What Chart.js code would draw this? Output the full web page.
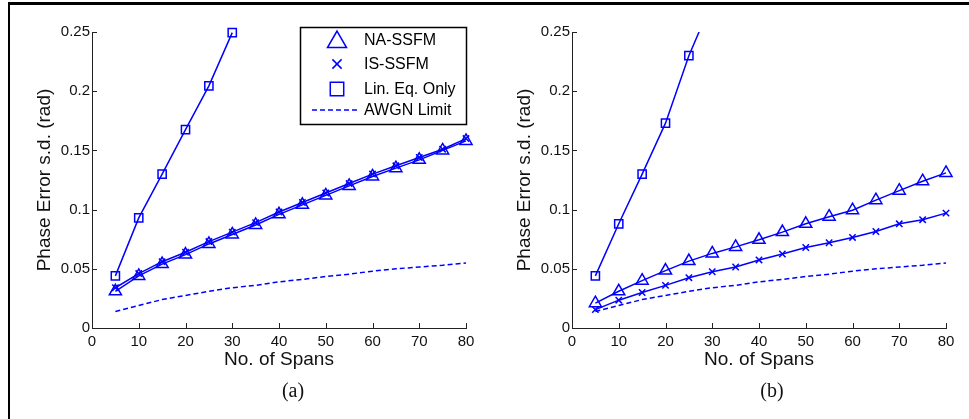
<!DOCTYPE html>
<html>
<head>
<meta charset="utf-8">
<script src="https://cdn.jsdelivr.net/npm/chart.js@4.4.1/dist/chart.umd.min.js"></script>
<style>
  body { margin: 0; background: #fff; width: 969px; height: 419px; overflow: hidden; position: relative; }
  #frame { position: absolute; left: 8px; top: 2px; width: 980px; height: 430px; border-top: 3px solid #000; border-left: 2px solid #000; }
  .box { position: absolute; top: 5px; height: 375px; }
  .cap { position: absolute; top: 379px; font-family: "Liberation Serif", "DejaVu Serif", serif; font-size: 20px; color: #111; transform: translateX(-50%); }
</style>
</head>
<body>
<div id="frame"></div>
<div class="box" style="left:10px;width:480px;"><canvas id="chartA"></canvas></div>
<div class="box" style="left:490px;width:479px;"><canvas id="chartB"></canvas></div>
<div class="cap" style="left:293px;">(a)</div>
<div class="cap" style="left:772px;">(b)</div>
<script>
var spans = [5, 10, 15, 20, 25, 30, 35, 40, 45, 50, 55, 60, 65, 70, 75, 80];
var linSpans = [5, 10, 15, 20, 25, 30];
var xTicks = [0, 10, 20, 30, 40, 50, 60, 70, 80];
var yTicks = [0, 0.05, 0.1, 0.15, 0.2, 0.25];

// (a)
var naA = [0.031, 0.044, 0.054, 0.062, 0.071, 0.079, 0.087, 0.096, 0.104, 0.112, 0.120, 0.128, 0.135, 0.142, 0.150, 0.158];
var isA = [0.034, 0.046, 0.056, 0.064, 0.073, 0.081, 0.089, 0.098, 0.106, 0.114, 0.122, 0.130, 0.137, 0.144, 0.151, 0.160];
var linA = [0.044, 0.093, 0.130, 0.1675, 0.2045, 0.2495];
var awgnA = [0.014, 0.019, 0.024, 0.0275, 0.031, 0.034, 0.036, 0.039, 0.041, 0.0435, 0.0455, 0.048, 0.050, 0.0515, 0.053, 0.055];

// (b)
var naB = [0.021, 0.031, 0.040, 0.0485, 0.0565, 0.063, 0.0685, 0.0745, 0.081, 0.088, 0.094, 0.0995, 0.108, 0.116, 0.124, 0.131];
var isB = [0.0155, 0.0235, 0.030, 0.036, 0.0425, 0.0475, 0.0515, 0.0575, 0.0625, 0.068, 0.072, 0.0765, 0.0815, 0.088, 0.0915, 0.097];
var linB = [0.044, 0.088, 0.130, 0.173, 0.230, 0.276];
var awgnB = [0.014, 0.019, 0.024, 0.0275, 0.031, 0.034, 0.036, 0.039, 0.041, 0.0435, 0.0455, 0.048, 0.050, 0.0515, 0.053, 0.055];

var blue = '#0000ff';
var font = "'Liberation Sans', Arial, sans-serif";

function pts(xs, ys) {
	var out = [];
	for (var i = 0; i < ys.length; i++) out.push({x: xs[i], y: ys[i]});
	return out;
}

function series(label, xs, ys, style, radius, dash) {
	return {
		label: label,
		data: pts(xs, ys),
		borderColor: blue,
		backgroundColor: 'rgba(0,0,0,0)',
		borderWidth: 1.5,
		borderDash: dash || [],
		pointStyle: style,
		pointRadius: radius,
		pointBorderWidth: 1.5,
		pointBorderColor: blue,
		pointBackgroundColor: 'rgba(0,0,0,0)',
		tension: 0,
		clip: false
	};
}

// inward tick marks, matlab style
var innerTicks = {
	id: 'innerTicks',
	afterDatasetsDraw: function(chart) {
		var ctx = chart.ctx, a = chart.chartArea;
		var xs = chart.scales.x, ys = chart.scales.y;
		ctx.save();
		ctx.strokeStyle = '#222';
		ctx.lineWidth = 1;
		ctx.beginPath();
		xs.ticks.forEach(function(t) {
			var px = Math.round(xs.getPixelForValue(t.value)) + 0.5;
			ctx.moveTo(px, a.bottom);
			ctx.lineTo(px, a.bottom - 5);
		});
		ys.ticks.forEach(function(t) {
			var py = Math.round(ys.getPixelForValue(t.value)) + 0.5;
			ctx.moveTo(a.left, py);
			ctx.lineTo(a.left + 5, py);
		});
		ctx.stroke();
		ctx.restore();
	}
};

// legend box inside plot (a)
var boxLegend = {
	id: 'boxLegend',
	afterDraw: function(chart) {
		if (chart.canvas.id !== 'chartA') return;
		var ctx = chart.ctx;
		var ds = chart.data.datasets;
		var rows = [35, 59, 84, 105];
		var sizes = [11, 6.5, 9.5, 0];
		ctx.save();
		ctx.fillStyle = '#fff';
		ctx.fillRect(290, 22, 167, 98);
		ctx.strokeStyle = '#000';
		ctx.lineWidth = 1.5;
		ctx.strokeRect(290.5, 22.5, 166, 97);
		ds.forEach(function(d, i) {
			ctx.strokeStyle = blue;
			ctx.fillStyle = 'rgba(0,0,0,0)';
			if (d.pointStyle) {
				Chart.helpers.drawPoint(ctx, {pointStyle: d.pointStyle, radius: sizes[i], rotation: 0, borderWidth: 2.2}, 327, rows[i] + (i === 0 ? 2 : 0));
			} else {
				ctx.lineWidth = 1.6;
				ctx.setLineDash([5, 3]);
				ctx.beginPath();
				ctx.moveTo(302, rows[i]);
				ctx.lineTo(349, rows[i]);
				ctx.stroke();
				ctx.setLineDash([]);
			}
			ctx.fillStyle = '#000';
			ctx.font = '16px ' + font;
			ctx.textBaseline = 'middle';
			ctx.fillText(d.label, 354, rows[i] + 1);
		});
		ctx.restore();
	}
};

function makeChart(id, na, is, lin, awgn, rightPad) {
	var ctx = document.getElementById(id);
	return new Chart(ctx, {
		type: 'line',
		data: {
			datasets: [
				series('NA-SSFM', spans, na, 'triangle', 7),
				series('IS-SSFM', spans, is, 'crossRot', 4.5),
				Object.assign(series('Lin. Eq. Only', linSpans, lin, 'rect', 5.8), id === 'chartB' ? {clip: {left: false, right: false, top: 0, bottom: false}} : {}),
				series('AWGN Limit', spans, awgn, false, 0, [5, 3])
			]
		},
		options: {
			responsive: true,
			maintainAspectRatio: false,
			animation: false,
			layout: { padding: { top: 27, right: rightPad, left: 0, bottom: 0 } },
			plugins: { legend: { display: false }, tooltip: { enabled: false } },
			scales: {
				x: {
					type: 'linear',
					min: 0, max: 80,
					afterBuildTicks: function(s) { s.ticks = xTicks.map(function(v) { return {value: v}; }); },
					afterFit: function(s) { s.height = 52; },
					grid: { display: true, drawOnChartArea: false, drawTicks: false },
					border: { display: true, color: '#222', width: 1 },
					ticks: { color: '#111', font: { family: font, size: 15 }, padding: 5, maxRotation: 0 },
					title: { display: true, text: 'No. of Spans', color: '#111', font: { family: font, size: 19 }, padding: { top: 0, bottom: 9 } }
				},
				y: {
					min: 0, max: 0.25,
					afterBuildTicks: function(s) { s.ticks = yTicks.map(function(v) { return {value: v}; }); },
					afterFit: function(s) { s.width = 82; },
					grid: { display: true, drawOnChartArea: false, drawTicks: false },
					border: { display: true, color: '#222', width: 1 },
					ticks: { color: '#111', font: { family: font, size: 15 }, padding: 2,
						callback: function(v) { return String(+(+v).toFixed(2)); } },
					title: { display: true, text: 'Phase Error s.d. (rad)', color: '#111', font: { family: font, size: 19 }, padding: { top: 23, bottom: 0 } }
				}
			}
		},
		plugins: [innerTicks, boxLegend]
	});
}

makeChart('chartA', naA, isA, linA, awgnA, 24);
makeChart('chartB', naB, isB, linB, awgnB, 23);
</script>
</body>
</html>
